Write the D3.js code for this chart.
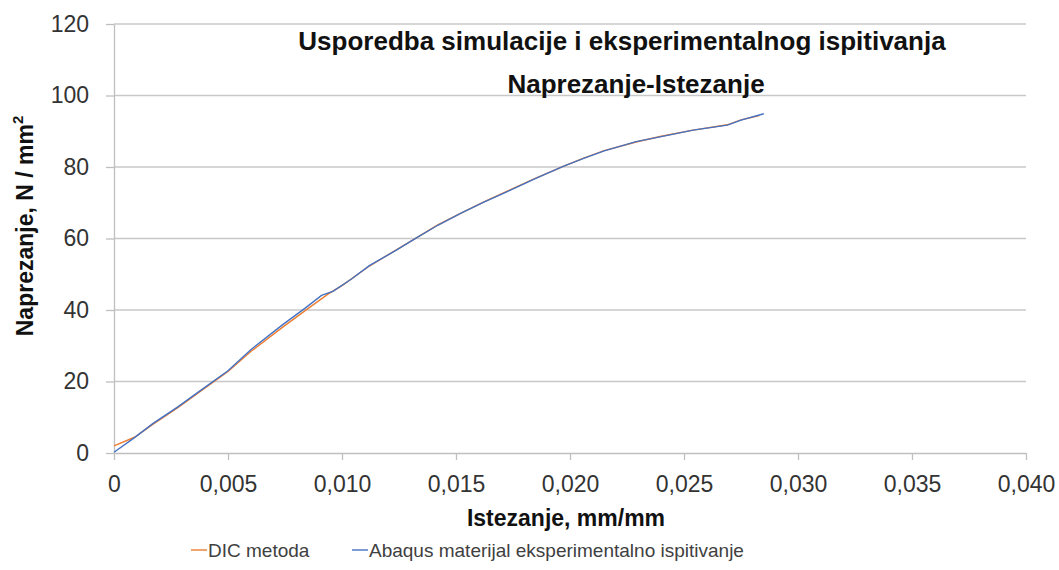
<!DOCTYPE html>
<html>
<head>
<meta charset="utf-8">
<script src="https://cdn.jsdelivr.net/npm/d3@7"></script>
<style>
  body { margin: 0; background: #fff; }
  text { font-family: "Liberation Sans", Arial, sans-serif; }
</style>
</head>
<body>
<div id="chart"></div>
<script>
// chart data
var xTicks = [0, 0.005, 0.010, 0.015, 0.020, 0.025, 0.030, 0.035, 0.040];
var yTicks = [0, 20, 40, 60, 80, 100, 120];

var dicStrain = [0, 0.0009, 0.0017, 0.0028, 0.0038, 0.0050, 0.0060, 0.0074, 0.0084, 0.0094, 0.0100,
  0.0112, 0.0124, 0.0133, 0.0142, 0.0152, 0.0162, 0.0172, 0.0185, 0.0197, 0.0206, 0.0215,
  0.0229, 0.0240, 0.0254, 0.0269, 0.0275, 0.0283];
var dicStress = [2.0, 4.4, 8.0, 12.7, 17.3, 22.8, 28.4, 35.2, 39.9, 44.5, 46.8,
  52.3, 56.9, 60.3, 63.8, 67.0, 70.2, 73.1, 76.9, 80.2, 82.5, 84.6,
  87.0, 88.6, 90.3, 91.8, 93.2, 94.4];

var abqStrain = [0, 0.0009, 0.0017, 0.0028, 0.0038, 0.0050, 0.0060, 0.0074, 0.0084, 0.0091, 0.0096,
  0.0104, 0.0112, 0.0124, 0.0133, 0.0142, 0.0152, 0.0162, 0.0172, 0.0185, 0.0197, 0.0206,
  0.0215, 0.0229, 0.0240, 0.0254, 0.0269, 0.0275, 0.0285];
var abqStress = [0.2, 4.3, 8.2, 12.9, 17.5, 23.0, 28.9, 35.9, 40.6, 44.1, 45.2,
  48.6, 52.4, 56.8, 60.3, 63.7, 67.0, 70.1, 73.0, 76.8, 80.2, 82.4,
  84.5, 87.1, 88.5, 90.3, 91.7, 93.1, 94.9];

var seriesNames = ["DIC metoda", "Abaqus materijal eksperimentalno ispitivanje"];
var seriesColors = ["#ED7D31", "#4472C4"];

var svgWidth = 1059;
var svgHeight = 570;
var margin = { top: 24, right: 33, bottom: 117, left: 114 };
var width = svgWidth - margin.left - margin.right;
var height = svgHeight - margin.top - margin.bottom;

var svg = d3.select("#chart")
  .append("svg")
    .attr("width", svgWidth)
    .attr("height", svgHeight);

var chartGroup = svg.append("g")
  .attr("transform", `translate(${margin.left}, ${margin.top})`);

var xScale = d3.scaleLinear().domain([0, 0.040]).range([0, width]);
var yScale = d3.scaleLinear().domain([0, 120]).range([height, 0]);

// gridlines
chartGroup.append("g")
  .selectAll("line")
  .data(yTicks.slice(1))
  .enter()
  .append("line")
    .attr("x1", 0)
    .attr("x2", width)
    .attr("y1", d => yScale(d))
    .attr("y2", d => yScale(d))
    .attr("stroke", "#c8c8c8")
    .attr("stroke-width", 1.3);

var fmtX = d => d === 0 ? "0" : d.toFixed(3).replace(".", ",");

// axes
chartGroup.append("g")
  .attr("transform", "translate(0," + height + ")")
  .call(d3.axisBottom(xScale).tickValues(xTicks).tickFormat(fmtX).tickSize(7).tickSizeOuter(0).tickPadding(16));

chartGroup.append("g")
  .call(d3.axisLeft(yScale).tickValues(yTicks).tickFormat(d3.format("d")).tickSize(8).tickSizeOuter(0).tickPadding(17));

chartGroup.selectAll(".domain").attr("stroke", "#bfbfbf").attr("stroke-width", 1.3);
chartGroup.selectAll(".tick line").attr("stroke", "#bfbfbf").attr("stroke-width", 1.3);
chartGroup.selectAll(".tick text")
  .style("font-family", '"Liberation Sans", Arial, sans-serif')
  .style("font-size", "23px")
  .attr("fill", "#333");

// series lines
var line = d3.line()
  .x(d => xScale(d[0]))
  .y(d => yScale(d[1]));

var dicData = d3.zip(dicStrain, dicStress);
var abqData = d3.zip(abqStrain, abqStress);

chartGroup.append("path")
  .datum(dicData)
  .attr("fill", "none")
  .attr("stroke", seriesColors[0])
  .attr("stroke-width", 1.4)
  .attr("d", line);

chartGroup.append("path")
  .datum(abqData)
  .attr("fill", "none")
  .attr("stroke", seriesColors[1])
  .attr("stroke-width", 1.4)
  .attr("d", line);

// title
svg.append("text")
  .attr("x", 622)
  .attr("y", 50)
  .attr("text-anchor", "middle")
  .style("font-weight", "bold")
  .style("font-size", "26px")
  .attr("fill", "#111")
  .text("Usporedba simulacije i eksperimentalnog ispitivanja");

svg.append("text")
  .attr("x", 636)
  .attr("y", 93)
  .attr("text-anchor", "middle")
  .style("font-weight", "bold")
  .style("font-size", "26px")
  .attr("fill", "#111")
  .text("Naprezanje-Istezanje");

// X axis label
svg.append("text")
  .attr("text-anchor", "middle")
  .attr("x", 566)
  .attr("y", 526)
  .style("font-weight", "bold")
  .style("font-size", "23px")
  .attr("fill", "#111")
  .text("Istezanje, mm/mm");

// Y axis label
var yLabel = svg.append("text")
  .attr("text-anchor", "middle")
  .attr("transform", "translate(33,226) rotate(-90)")
  .style("font-weight", "bold")
  .style("font-size", "23px")
  .attr("fill", "#111");
yLabel.append("tspan").text("Naprezanje, N / mm");
yLabel.append("tspan").attr("dy", -10).style("font-size", "15px").text("2");

// legend
var legendX = [191, 352];
var legend = svg.append("g");
seriesNames.forEach(function(name, i) {
  legend.append("line")
    .attr("x1", legendX[i])
    .attr("x2", legendX[i] + 16)
    .attr("y1", 550)
    .attr("y2", 550)
    .attr("stroke", seriesColors[i])
    .attr("stroke-width", 1.4);
  legend.append("text")
    .attr("x", legendX[i] + 17)
    .attr("y", 557)
    .style("font-size", "19px")
    .attr("fill", "#404040")
    .text(name);
});
</script>
</body>
</html>
